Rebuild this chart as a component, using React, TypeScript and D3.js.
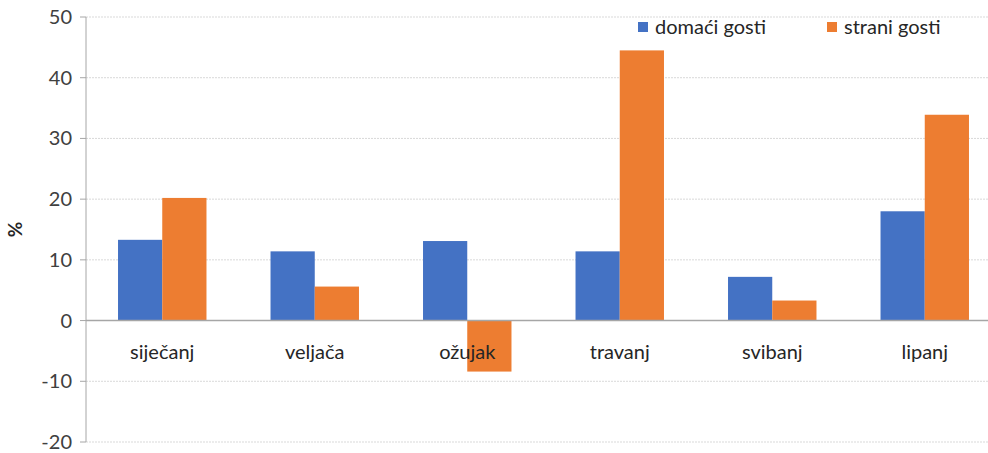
import React from 'react';
import * as d3 from 'd3';

const months = ['siječanj', 'veljača', 'ožujak', 'travanj', 'svibanj', 'lipanj'];
const domaci = [13.3, 11.4, 13.1, 11.4, 7.2, 18.0];
const strani = [20.2, 5.6, -8.4, 44.5, 3.3, 33.9];
const seriesNames = ['domaći gosti', 'strani gosti'];
const yTicks = [-20, -10, 0, 10, 20, 30, 40, 50];

const colors = ['#4472c4', '#ed7d31'];
const font = 'Lato, "Open Sans", sans-serif';

const App = () => {
    const width = 988;
    const height = 453;
    const left = 86;

    const y = d3.scaleLinear().domain([-20, 50]).range([442, 17]);
    const x = d3.scaleBand().domain(months).range([left, 1001]).paddingInner(0.42).paddingOuter(0.21);
    const sub = d3.scaleBand().domain(['0', '1']).range([0, x.bandwidth()]);

    const data = [domaci, strani];

    return (
        <svg width={width} height={height} style={{ position: 'absolute', left: 0, top: 0 }}>
            {yTicks.map(t => (
                <g key={t}>
                    {t !== 0 && (
                        <line x1={left} x2={width} y1={y(t)} y2={y(t)} stroke="#d9d9d9" strokeWidth={1} strokeDasharray="2 1" />
                    )}
                    <line x1={left - 6} x2={left} y1={y(t)} y2={y(t)} stroke="#a6a6a6" />
                    <text x={left - 14} y={y(t)} dy="0.35em" textAnchor="end" fontFamily={font} fontSize={20} fill="#404040">{t}</text>
                </g>
            ))}
            {data.map((vals, s) => (
                <g key={s}>
                    {vals.map((v, i) => (
                        <rect key={i}
                            x={(x(months[i]) as number) + (sub(String(s)) as number)}
                            y={y(Math.max(0, v))}
                            width={sub.bandwidth()}
                            height={Math.abs(y(v) - y(0))}
                            fill={colors[s]} />
                    ))}
                </g>
            ))}
            <line x1={left} x2={width} y1={y(0)} y2={y(0)} stroke="#a6a6a6" strokeWidth={1.5} />
            <line x1={left} x2={left} y1={y(50)} y2={y(-20)} stroke="#a6a6a6" strokeWidth={1} />
            {months.map(m => (
                <text key={m} x={(x(m) as number) + x.bandwidth() / 2} y={352} dy="0.35em" textAnchor="middle"
                    fontFamily={font} fontSize={20} fill="#262626">{m}</text>
            ))}
            <text transform={`translate(22 ${y(15)}) rotate(-90)`} textAnchor="middle" fontFamily={font}
                fontSize={19} fontWeight="bold" fill="#262626">%</text>
            {seriesNames.map((n, i) => (
                <g key={n} transform={`translate(${638 + i * 189} 0)`}>
                    <rect x={0} y={22} width={10} height={10} fill={colors[i]} />
                    <text x={17} y={27} dy="0.35em" fontFamily={font} fontSize={20} fill="#262626">{n}</text>
                </g>
            ))}
        </svg>
    );
};

export default App;
